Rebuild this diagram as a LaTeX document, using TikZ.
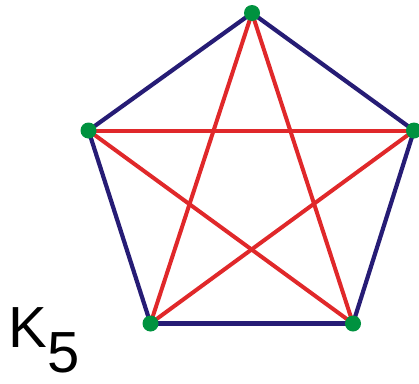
\documentclass[tikz,border=0pt]{standalone}
\usepackage{fontspec}
\setmainfont{Liberation Sans}
\definecolor{edgeblue}{HTML}{261C75}
\definecolor{edgered}{HTML}{E0282A}
\definecolor{vgreen}{HTML}{00923F}
\begin{document}
\begin{tikzpicture}[x=1pt,y=-1pt,
  vert/.style={circle,fill=vgreen,minimum size=16pt,inner sep=0pt},
  outer/.style={edgeblue,line width=4.2pt},
  inner/.style={edgered,line width=4pt},
  lbl/.style={inner sep=0pt,font=\fontsize{58}{60}\selectfont}]
\useasboundingbox (0,0) rectangle (419,383);
\coordinate (t) at (252,13);
\coordinate (l) at (88.5,130.5);
\coordinate (r) at (414,130.5);
\coordinate (bl) at (150.5,323.5);
\coordinate (br) at (353,323.5);
\draw[outer] (t) -- (l);
\draw[outer] (t) -- (r);
\draw[outer] (l) -- (bl);
\draw[outer] (r) -- (br);
\draw[outer] (bl) -- (br);
\draw[inner] (t) -- (bl);
\draw[inner] (t) -- (br);
\draw[inner] (l) -- (r);
\draw[inner] (l) -- (br);
\draw[inner] (r) -- (bl);
\node[vert] (vt) at (t) {};
\node[vert] (vl) at (l) {};
\node[vert] (vr) at (r) {};
\node[vert] (vbl) at (bl) {};
\node[vert] (vbr) at (br) {};
\node[lbl,anchor=base west] (K) at (8,347) {K};
\node[lbl,anchor=base west] (five) at (47.5,372.5) {5};
\end{tikzpicture}
\end{document}
